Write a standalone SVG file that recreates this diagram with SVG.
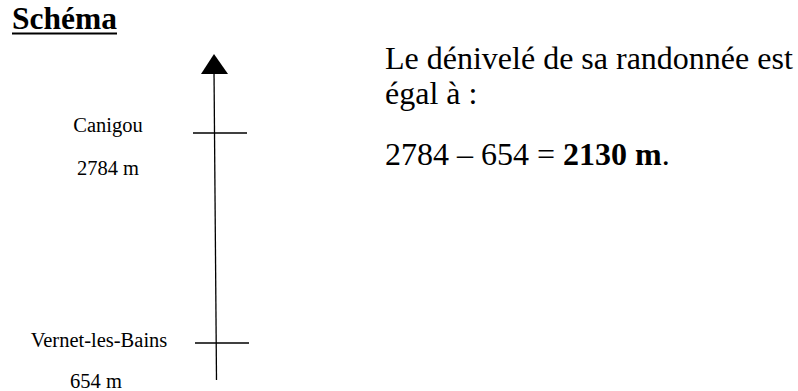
<svg xmlns="http://www.w3.org/2000/svg" width="798" height="391" viewBox="0 0 798 391">
<style>
text{font-family:"Liberation Serif","Times New Roman",serif;fill:#000}
.lbl{font-size:20.5px;text-anchor:middle}
.main{font-size:32px}
.ln{stroke:#000;stroke-width:1.3;fill:none}
</style>
<rect width="798" height="391" fill="#fff"/>
<g id="title">
<text x="12" y="29" font-size="31.5" font-weight="bold">Schéma</text>
<line x1="12" y1="33.5" x2="117" y2="33.5" stroke="#000" stroke-width="2"/>
</g>
<g id="connectors">
<line class="ln" x1="216.5" y1="380" x2="214" y2="70"/>
<polygon points="214,54 201,74 228,74" fill="#000"/>
</g>
<g id="canigou">
<line class="ln" x1="193" y1="133" x2="247" y2="133"/>
<text class="lbl" x="108" y="132">Canigou</text>
<text class="lbl" x="108" y="175">2784 m</text>
</g>
<g id="vernet">
<line class="ln" x1="195" y1="343" x2="249" y2="343"/>
<text class="lbl" x="99" y="347">Vernet-les-Bains</text>
<text class="lbl" x="96" y="388">654 m</text>
</g>
<g id="calc">
<text class="main" x="385" y="69">Le dénivelé de sa randonnée est</text>
<text class="main" x="385" y="104">égal à :</text>
<text class="main" x="385" y="165">2784 – 654 = <tspan font-weight="bold">2130 m</tspan>.</text>
</g>
</svg>
